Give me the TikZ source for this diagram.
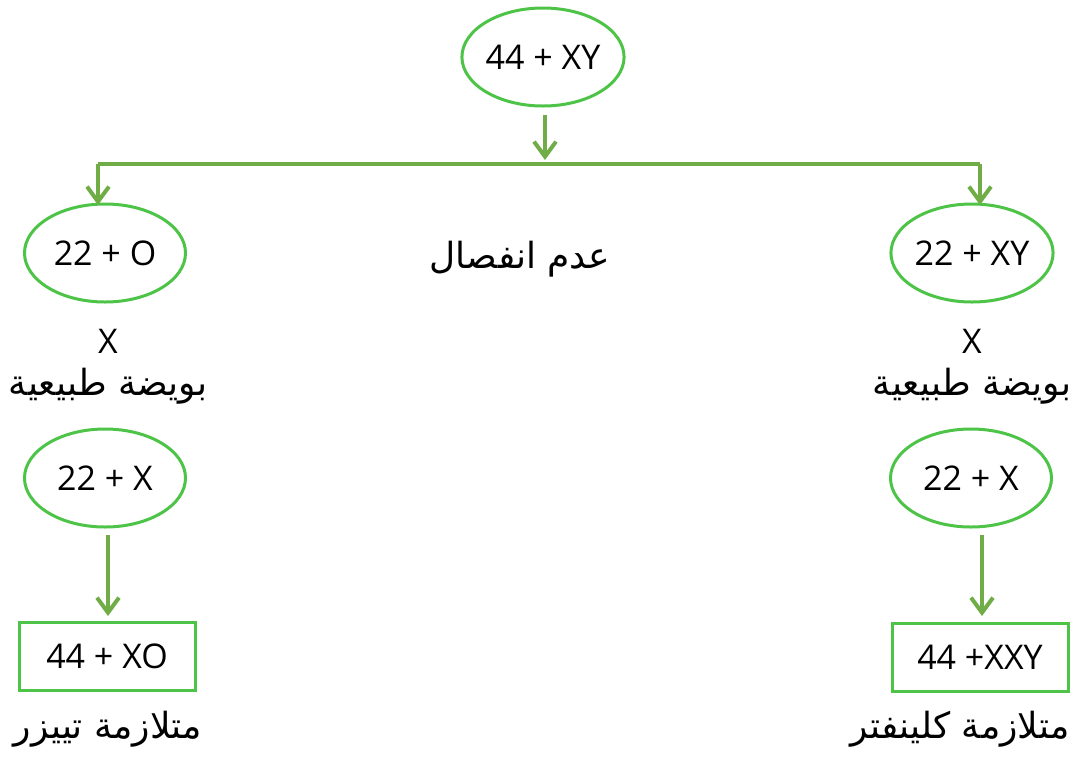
\documentclass[tikz,border=0pt]{standalone}
\usepackage{fontspec}
\setmainfont{Open Sans}
\newfontfamily\arabicfont[Script=Arabic]{DejaVu Sans}
\TeXXeTstate=1
\usetikzlibrary{shapes.geometric,arrows.meta}
\definecolor{ringgreen}{HTML}{4DC447}
\definecolor{arrgreen}{HTML}{70AD47}
\begin{document}
\begin{tikzpicture}[x=1pt,y=-1pt,
  oval/.style={ellipse,draw=ringgreen,line width=3pt,minimum width=161pt,minimum height=98pt,inner sep=0pt,font=\fontsize{34}{40}\selectfont},
  rbox/.style={rectangle,draw=ringgreen,line width=3pt,minimum width=176pt,minimum height=68pt,inner sep=0pt,font=\fontsize{34}{40}\selectfont},
  lat/.style={font=\fontsize{34}{40}\selectfont,inner sep=0pt},
  arab/.style={font=\fontsize{36}{42}\selectfont\arabicfont,inner sep=0pt},
  arr/.style={draw=arrgreen,line width=4pt,-{Straight Barb[length=15pt,width=22pt]}},
  conn/.style={draw=arrgreen,line width=4pt}]
\useasboundingbox (0,0) rectangle (1076,756);
\node[oval] (top) at (543,57) {44 + XY};
\coordinate (tipTop) at (545,160);
\coordinate (split) at (545,164);
\coordinate (splitL) at (98,164);
\coordinate (splitR) at (980,164);
\node[oval] (l1) at (105,253) {22 + O};
\node[oval] (r1) at (972,253) {22 + XY};
\node[arab] (mid) at (520,259) {\beginR عدم انفصال\endR};
\node[lat] (lx) at (108,341) {X};
\node[lat] (rx) at (972,341) {X};
\node[arab] (legg) at (108,386) {\beginR بويضة طبيعية\endR};
\node[arab] (regg) at (972,386) {\beginR بويضة طبيعية\endR};
\node[oval] (l2) at (105,478) {22 + X};
\node[oval] (r2) at (971,478) {22 + X};
\node[rbox] (lbox) at (107,656) {44 + XO};
\node[rbox] (rbox) at (980,657) {44 +XXY};
\node[arab] (lsyn) at (108,729) {\beginR متلازمة تييزر\endR};
\node[arab] (rsyn) at (960,729) {\beginR متلازمة كلينفتر\endR};
\coordinate (l2a) at (108,535);
\coordinate (l2b) at (108,616);
\coordinate (r2a) at (982,535);
\coordinate (r2b) at (982,616);
\draw[arr] (545,115) -- (tipTop);
\draw[conn] (splitL) -- (splitR);
\draw[arr] (splitL) -- (98,205);
\draw[arr] (splitR) -- (980,205);
\draw[arr] (l2a) -- (l2b);
\draw[arr] (r2a) -- (r2b);
\end{tikzpicture}
\end{document}
